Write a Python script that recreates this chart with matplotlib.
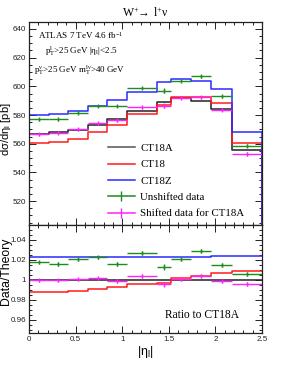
import numpy as np
import matplotlib
matplotlib.use("Agg")
import matplotlib.pyplot as plt
from matplotlib.ticker import MultipleLocator, FuncFormatter
from matplotlib.lines import Line2D

plt.rcParams["mathtext.fontset"] = "stix"
plt.rcParams["mathtext.default"] = "regular"

# |eta_l| bin edges (ATLAS 7 TeV W binning)
edges = [0, 0.21, 0.42, 0.63, 0.84, 1.05, 1.37, 1.52, 1.74, 1.95, 2.18, 2.5]

# upper panel: dsigma/deta [pb]
ct18a = [567.0, 567.9, 569.8, 573.3, 577.0, 583.0, 589.3, 591.6, 589.9, 584.2, 555.4]
ct18 = [560.2, 561.1, 563.5, 567.9, 572.7, 580.5, 587.2, 592.6, 592.4, 588.3, 560.4]
ct18z = [579.8, 580.7, 582.8, 586.5, 590.3, 596.4, 603.0, 605.4, 603.7, 597.9, 568.4]
data_unshifted = [577.0, 577.0, 581.6, 586.3, 586.3, 598.8, 597.0, 603.9, 607.0, 593.0, 558.6]
data_shifted = [566.7, 567.6, 570.1, 574.2, 576.4, 585.3, 586.6, 592.0, 592.3, 583.6, 552.9]
err_upper = [1.0, 1.0, 1.0, 1.0, 1.0, 1.0, 1.5, 1.0, 1.0, 1.0, 1.2]

# lower panel: ratio to CT18A
r_ct18a = [1.0] * 11
r_ct18 = [0.988, 0.988, 0.989, 0.9905, 0.9925, 0.9957, 0.9965, 1.0017, 1.0043, 1.007, 1.009]
r_ct18z = [1.0225, 1.0225, 1.0228, 1.023, 1.023, 1.023, 1.0232, 1.0233, 1.0234, 1.0235, 1.0235]
r_unshifted = [1.0177, 1.016, 1.0207, 1.0227, 1.016, 1.027, 1.013, 1.0207, 1.029, 1.015, 1.0057]
r_shifted = [0.9995, 0.9995, 1.0005, 1.0015, 0.999, 1.004, 0.9955, 1.0007, 1.004, 0.999, 0.9955]
err_ratio = [0.0017, 0.0017, 0.0017, 0.0017, 0.0017, 0.0017, 0.0027, 0.0017, 0.0017, 0.0017, 0.002]

edges = np.array(edges)
centers = 0.5 * (edges[:-1] + edges[1:])
xerr = 0.5 * (edges[1:] - edges[:-1])

C_A, C_18, C_Z = "#222222", "#ff1a1a", "#2a2aff"
C_UN, C_SH = "#1e8c1e", "#ff22ff"
SERIF = "Liberation Serif"
SANS = "Liberation Sans"

fig = plt.figure(figsize=(2.91, 3.76), dpi=100)
ax1 = fig.add_axes([0.0997, 0.4016, 0.801, 0.54])
ax2 = fig.add_axes([0.0997, 0.1144, 0.801, 0.2872])


def step(ax, vals, color):
    v = np.append(vals, vals[-1])
    ax.step(edges, v, where="post", color=color, lw=1.1)


def points(ax, vals, err, color):
    ax.errorbar(centers, vals, xerr=xerr, yerr=err, fmt="none", ecolor=color,
                elinewidth=1.0, capsize=0)
    ax.plot(centers, vals, ls="none", marker="|", ms=3, color=color)


for vals, col in [(ct18a, C_A), (ct18, C_18), (ct18z, C_Z)]:
    step(ax1, vals, col)
    ax1.plot([2.5, 2.5], [vals[-1], 0], color=col, lw=1.1)
points(ax1, data_unshifted, err_upper, C_UN)
points(ax1, data_shifted, err_upper, C_SH)

for vals, col in [(r_ct18a, C_A), (r_ct18, C_18), (r_ct18z, C_Z)]:
    step(ax2, vals, col)
points(ax2, r_unshifted, err_ratio, C_UN)
points(ax2, r_shifted, err_ratio, C_SH)

ax1.set_xlim(0, 2.5)
ax1.set_ylim(503.3, 644.9)
ax2.set_xlim(0, 2.5)
ax2.set_ylim(0.947, 1.055)

for ax in (ax1, ax2):
    ax.xaxis.set_major_locator(MultipleLocator(0.5))
    ax.xaxis.set_minor_locator(MultipleLocator(0.1))
    ax.tick_params(which="both", direction="in", top=True, right=True,
                   labelsize=5.8, colors="#222222", width=0.7, pad=2)
    ax.tick_params(which="major", length=5)
    ax.tick_params(which="minor", length=2.5)
    for s in ax.spines.values():
        s.set_linewidth(0.9)
        s.set_color("#222222")

ax1.yaxis.set_major_locator(MultipleLocator(20))
ax1.yaxis.set_minor_locator(MultipleLocator(5))
ax1.tick_params(labelbottom=False)
ax2.yaxis.set_major_locator(MultipleLocator(0.02))
ax2.yaxis.set_minor_locator(MultipleLocator(0.005))
ax2.yaxis.set_major_formatter(FuncFormatter(lambda v, p: f"{v:g}"))
ax2.xaxis.set_major_formatter(FuncFormatter(lambda v, p: f"{v:g}"))
for lab in ax1.get_yticklabels() + ax2.get_xticklabels() + ax2.get_yticklabels():
    lab.set_family(SANS)

ax1.set_ylabel(r"d$\sigma$/d$\eta_{l}$ [pb]", family=SANS, fontsize=8, va="center")
ax1.yaxis.set_label_coords(-0.098, 0.47)
ax2.set_ylabel("Data/Theory", family=SANS, fontsize=8.8, va="center")
ax2.yaxis.set_label_coords(-0.1, 0.57)
ax2.set_xlabel(r"|$\eta_{l}$|", family=SANS, fontsize=9, labelpad=1)

fig.text(0.5, 0.965, r"W$^{+}\!\!\rightarrow$ l$^{+}$$\nu$", ha="center", va="center",
         family=SERIF, fontsize=8.5)
ax1.text(0.04, 0.935, r"ATLAS 7 TeV 4.6 fb$^{-1}$", transform=ax1.transAxes,
         family=SERIF, fontsize=6.5, va="center")
ax1.text(0.07, 0.855, r"p$_{T}^{l}$>25 GeV |$\eta_{l}$|<2.5", transform=ax1.transAxes,
         family=SERIF, fontsize=6.5, va="center")
ax1.text(0.02, 0.76, r"p$_{T}^{\nu}$>25 GeV m$_{T}^{l\nu}$>40 GeV", transform=ax1.transAxes,
         family=SERIF, fontsize=6.5, va="center")
ax2.text(0.585, 0.17, "Ratio to CT18A", transform=ax2.transAxes,
         family=SERIF, fontsize=8.3, va="center")

handles = [
    Line2D([], [], color="#555555", lw=1.1),
    Line2D([], [], color=C_18, lw=1.1),
    Line2D([], [], color=C_Z, lw=1.1),
    Line2D([], [], color=C_UN, lw=1.1, marker="|", ms=7),
    Line2D([], [], color=C_SH, lw=1.1, marker="|", ms=7),
]
labels = ["CT18A", "CT18", "CT18Z", "Unshifted data", "Shifted data for CT18A"]
ax1.legend(handles, labels, loc="lower left", bbox_to_anchor=(0.3, -0.01),
           frameon=False, prop={"family": SERIF, "size": 7.8},
           handlelength=2.5, handletextpad=0.5, labelspacing=0.62, borderpad=0.3)

fig.savefig("out.png", dpi=100)
